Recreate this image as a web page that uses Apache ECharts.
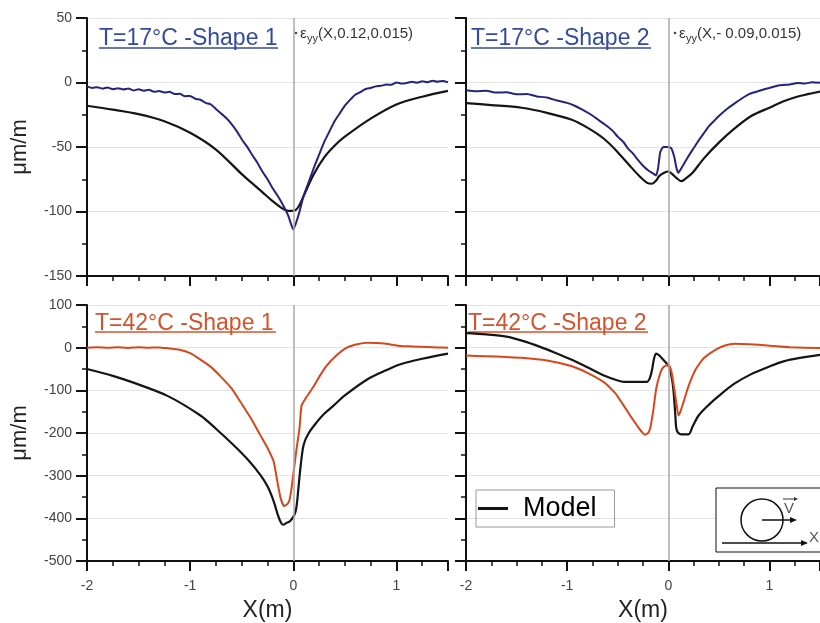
<!DOCTYPE html>
<html>
<head>
<meta charset="utf-8">
<script src="https://cdn.jsdelivr.net/npm/echarts/dist/echarts.min.js"></script>
<style>
  html, body { margin: 0; padding: 0; background: #fff; }
  #main { width: 820px; height: 623px; }
</style>
</head>
<body>
<div id="main"></div>
<script>
// values, [x (m), strain (µm/m)]
const t17s1Meas = [[-2,-3],[-1.95,-4.2],[-1.9,-3.6],[-1.85,-4.8],[-1.8,-3.8],[-1.75,-5.2],[-1.7,-4.4],[-1.65,-5.4],[-1.6,-4.6],[-1.55,-6.2],[-1.5,-5.2],[-1.45,-6.4],[-1.4,-5.6],[-1.35,-7.2],[-1.3,-6.6],[-1.25,-7.8],[-1.2,-7.2],[-1.15,-9],[-1.1,-8.8],[-1.05,-10.6],[-1,-10.5],[-0.95,-12.6],[-0.9,-13.4],[-0.85,-15.8],[-0.8,-17],[-0.75,-20.5],[-0.7,-24],[-0.65,-27.5],[-0.6,-32],[-0.55,-37.5],[-0.5,-44],[-0.45,-49.5],[-0.4,-56],[-0.35,-62],[-0.3,-69],[-0.25,-75],[-0.2,-82],[-0.15,-88],[-0.1,-95],[-0.05,-103],[0,-114],[0.05,-103],[0.1,-88],[0.15,-77],[0.2,-66],[0.25,-56],[0.3,-46],[0.35,-38],[0.4,-30],[0.45,-24],[0.5,-18],[0.55,-13.5],[0.6,-9.5],[0.65,-7.4],[0.7,-5],[0.75,-4.2],[0.8,-3],[0.85,-2.6],[0.9,-1.6],[0.95,-1.8],[1,0],[1.05,-0.8],[1.1,-0.4],[1.15,0.6],[1.2,-0.2],[1.25,1],[1.3,0.2],[1.35,1.4],[1.4,0.6],[1.45,1.2],[1.5,0.2]];
const t17s1Model = [[-2,-18],[-1.75,-21],[-1.5,-24.5],[-1.25,-30],[-1,-39],[-0.75,-52],[-0.5,-71],[-0.4,-78],[-0.3,-85],[-0.2,-92],[-0.1,-98],[-0.05,-99.5],[0.02,-99],[0.06,-95],[0.1,-88],[0.2,-71],[0.3,-58],[0.4,-49],[0.5,-42],[0.75,-28],[1,-17],[1.25,-11],[1.5,-6.5]];
const t17s2Meas = [[-2,-6],[-1.9,-6.8],[-1.8,-6.4],[-1.7,-7.8],[-1.6,-7.6],[-1.5,-9.2],[-1.4,-9],[-1.3,-10.8],[-1.2,-11.6],[-1.1,-14],[-1,-15.8],[-0.92,-18.2],[-0.85,-21],[-0.77,-24.6],[-0.7,-28.5],[-0.62,-33],[-0.55,-37.5],[-0.5,-42],[-0.44,-46.5],[-0.4,-51],[-0.35,-55],[-0.3,-60],[-0.25,-64.5],[-0.2,-68],[-0.16,-70],[-0.12,-72],[-0.1,-66],[-0.08,-54],[-0.05,-50],[0,-50],[0.03,-51],[0.06,-58],[0.08,-66],[0.1,-70],[0.14,-65],[0.2,-57],[0.25,-51],[0.3,-45],[0.35,-39.5],[0.4,-34],[0.45,-30],[0.5,-26],[0.58,-20.5],[0.66,-16],[0.73,-12.2],[0.8,-9],[0.9,-6.4],[1,-4.2],[1.1,-2.2],[1.2,-1.5],[1.28,-0.4],[1.35,-0.8],[1.42,0.2],[1.5,-0.2]];
const t17s2Model = [[-2,-16],[-1.75,-17.5],[-1.45,-19.6],[-1.2,-23.5],[-0.96,-28.7],[-0.8,-35],[-0.63,-44],[-0.5,-54],[-0.38,-64.6],[-0.28,-73],[-0.21,-77.8],[-0.16,-78.5],[-0.12,-76],[-0.09,-72.6],[-0.04,-70],[0,-69],[0.04,-71],[0.08,-74],[0.13,-76.5],[0.18,-74],[0.24,-70],[0.35,-59],[0.5,-46.6],[0.65,-36],[0.82,-26],[1,-19.5],[1.14,-14.5],[1.3,-10.5],[1.5,-7]];
const t42s1Meas = [[-2,0],[-1.9,1],[-1.8,0],[-1.7,1],[-1.6,-0.5],[-1.5,0.8],[-1.4,0],[-1.3,0.6],[-1.23,-1],[-1.1,-5],[-1,-13],[-0.9,-28],[-0.8,-45],[-0.71,-66],[-0.6,-95],[-0.51,-128],[-0.4,-170],[-0.32,-205],[-0.25,-235],[-0.19,-267],[-0.15,-320],[-0.12,-355],[-0.09,-371],[-0.06,-367],[-0.04,-360],[-0.02,-335],[0,-298],[0.03,-240],[0.06,-190],[0.08,-136],[0.13,-115],[0.2,-90],[0.26,-65],[0.32,-43],[0.42,-18],[0.52,0],[0.62,8],[0.72,11.5],[0.8,11],[0.88,10],[0.96,7],[1.04,4],[1.15,3],[1.3,1.5],[1.4,0.5],[1.5,0]];
const t42s1Model = [[-2,-50],[-1.75,-66],[-1.55,-82],[-1.22,-113],[-0.9,-159],[-0.75,-190],[-0.58,-228],[-0.45,-260],[-0.32,-298],[-0.25,-325],[-0.19,-360],[-0.15,-392],[-0.12,-410],[-0.1,-415],[-0.06,-410],[-0.03,-406],[0.01,-392],[0.03,-375],[0.05,-329],[0.07,-280],[0.1,-228],[0.15,-200],[0.23,-174],[0.3,-155],[0.39,-136],[0.5,-112],[0.72,-74],[0.9,-53],[1.04,-39],[1.25,-26],[1.5,-14]];
const t42s2Meas = [[-2,-18.5],[-1.8,-20],[-1.6,-22],[-1.45,-23.5],[-1.2,-30],[-0.96,-43],[-0.8,-59],[-0.63,-82],[-0.53,-105],[-0.44,-136],[-0.38,-158],[-0.31,-182],[-0.26,-198],[-0.23,-204],[-0.2,-200],[-0.18,-190],[-0.15,-150],[-0.12,-97],[-0.08,-60],[-0.05,-46],[0,-39],[0.03,-55],[0.05,-82],[0.08,-130],[0.1,-159],[0.12,-150],[0.15,-128],[0.2,-90],[0.27,-51],[0.35,-25],[0.47,-4.6],[0.56,5],[0.66,9],[0.8,8],[0.98,5],[1.2,1],[1.5,-1]];
const t42s2Model = [[-2,34],[-1.8,31],[-1.6,26],[-1.44,16],[-1.28,3],[-1.12,-12],[-0.96,-28],[-0.8,-46],[-0.63,-66],[-0.5,-77],[-0.44,-80],[-0.3,-80],[-0.21,-80],[-0.18,-70],[-0.16,-51],[-0.14,-25],[-0.12,-14],[-0.09,-18],[-0.07,-23],[-0.02,-36],[0.01,-46],[0.03,-65],[0.05,-97],[0.07,-160],[0.08,-190],[0.1,-200],[0.13,-203],[0.2,-203],[0.24,-185],[0.3,-159],[0.4,-134],[0.5,-113],[0.65,-85],[0.82,-62],[1,-44],[1.14,-32],[1.3,-24],[1.5,-17]];

const panelTitles = ['T=17°C -Shape 1', 'T=17°C -Shape 2', 'T=42°C -Shape 1', 'T=42°C -Shape 2'];
const annotations = ['(X,0.12,0.015)', '(X,- 0.09,0.015)'];

const FONT = '"Liberation Sans", Arial, sans-serif';
const BLUE = '#24247e';
const ORANGE = '#d8461c';
const BLUE_T = '#3449a3';
const ORANGE_T = '#d4532b';

const chart = echarts.init(document.getElementById('main'));

const grids = [
  { left: 87, top: 18, width: 361, height: 258 },
  { left: 466, top: 18, width: 361, height: 258 },
  { left: 87, top: 305, width: 361, height: 258 },
  { left: 466, top: 305, width: 361, height: 258 }
];

function xAxis(i) {
  const bottom = i >= 2;
  return {
    type: 'value', gridIndex: i, min: -2, max: 1.5, interval: 1,
    name: bottom ? 'X(m)' : '', nameLocation: 'middle', nameGap: 38,
    nameTextStyle: { fontSize: 23, color: '#222', fontFamily: FONT },
    axisLine: { show: true, onZero: false, lineStyle: { color: '#111', width: 2 } },
    axisTick: { show: true, inside: false, length: 10, lineStyle: { color: '#111', width: 2 } },
    minorTick: { show: true, splitNumber: 4, length: 5, lineStyle: { color: '#111', width: 1.5 } },
    axisLabel: { show: bottom, margin: 18, fontSize: 14, color: '#444', fontFamily: FONT, showMaxLabel: false },
    splitLine: { show: false }
  };
}

function yAxis(i) {
  const top = i < 2;
  const left = i % 2 === 0;
  return {
    type: 'value', gridIndex: i,
    min: top ? -150 : -500, max: top ? 50 : 100, interval: top ? 50 : 100,
    name: left ? 'μm/m' : '', nameLocation: 'middle', nameGap: 56,
    nameTextStyle: { fontSize: 22, color: '#222', fontFamily: FONT },
    axisLine: { show: true, onZero: false, lineStyle: { color: '#111', width: 2 } },
    axisTick: { show: true, inside: false, length: 11, lineStyle: { color: '#111', width: 2 } },
    minorTick: { show: true, splitNumber: 2, length: 5, lineStyle: { color: '#111', width: 1.5 } },
    axisLabel: { show: left, margin: 15, fontSize: 14, color: '#444', fontFamily: FONT },
    splitLine: { show: true, lineStyle: { color: '#e4e4e4', width: 1 } }
  };
}

function modelSeries(i, data) {
  return {
    name: 'Model', type: 'line', xAxisIndex: i, yAxisIndex: i, data: data,
    symbol: 'none', smooth: 0.3, z: 3,
    lineStyle: { color: '#151515', width: 2.2 }, itemStyle: { color: '#151515' }
  };
}

function measSeries(i, data, color) {
  return {
    name: 'Measured ' + (i + 1), type: 'line', xAxisIndex: i, yAxisIndex: i, data: data,
    symbol: 'none', smooth: 0.15, z: 4,
    lineStyle: { color: color, width: 2 },
    markLine: {
      silent: true, symbol: ['none', 'none'], label: { show: false },
      lineStyle: { color: '#a8a8a8', width: 1.5, type: 'solid' },
      data: [{ xAxis: 0 }]
    }
  };
}

function titleText(x, y, text, color, x2, uy) {
  return [
    { type: 'text', left: x, top: y, style: { text: text, font: '23px ' + FONT, fill: color } },
    { type: 'line', shape: { x1: x, y1: uy, x2: x2, y2: uy }, style: { stroke: color, lineWidth: 1.5 } }
  ];
}

function epsText(x, y, rest) {
  return [
    { type: 'circle', shape: { cx: x - 4, cy: y + 5, r: 1.3 }, style: { fill: '#444' } },
    { type: 'text', left: x, top: y - 2, style: { text: 'ε', font: '15px ' + FONT, fill: '#333' } },
    { type: 'text', left: x + 7, top: y + 5, style: { text: 'yy', font: '11px ' + FONT, fill: '#333' } },
    { type: 'text', left: x + 18, top: y - 2, style: { text: rest, font: '15px ' + FONT, fill: '#333' } }
  ];
}

const inset = [
  { type: 'rect', shape: { x: 716, y: 488, width: 120, height: 64 }, style: { fill: '#fff', stroke: '#111', lineWidth: 1 }, z: 10 },
  { type: 'circle', shape: { cx: 762, cy: 520, r: 21 }, style: { fill: 'none', stroke: '#111', lineWidth: 1.5 }, z: 11 },
  { type: 'line', shape: { x1: 762, y1: 520, x2: 795, y2: 520 }, style: { stroke: '#111', lineWidth: 1.5 }, z: 11 },
  { type: 'polygon', shape: { points: [[797, 520], [790, 517], [790, 523]] }, style: { fill: '#111' }, z: 11 },
  { type: 'line', shape: { x1: 722, y1: 543, x2: 806, y2: 543 }, style: { stroke: '#111', lineWidth: 1.5 }, z: 11 },
  { type: 'polygon', shape: { points: [[808, 543], [801, 540], [801, 546]] }, style: { fill: '#111' }, z: 11 },
  { type: 'text', left: 784, top: 501, style: { text: 'V', font: '15px ' + FONT, fill: '#555' }, z: 11 },
  { type: 'line', shape: { x1: 783, y1: 499, x2: 796, y2: 499 }, style: { stroke: '#333', lineWidth: 1 }, z: 11 },
  { type: 'polygon', shape: { points: [[798, 499], [794, 497], [794, 501]] }, style: { fill: '#333' }, z: 11 },
  { type: 'text', left: 809, top: 530, style: { text: 'X', font: '15px ' + FONT, fill: '#555' }, z: 11 }
];

const option = {
  animation: false,
  backgroundColor: '#fff',
  grid: grids,
  xAxis: [0, 1, 2, 3].map(xAxis),
  yAxis: [0, 1, 2, 3].map(yAxis),
  legend: {
    data: [{ name: 'Model', icon: 'rect' }], left: 476, top: 490,
    itemWidth: 30, itemHeight: 3, itemGap: 10,
    padding: [5, 18, 5, 2],
    borderColor: '#999', borderWidth: 1,
    textStyle: { fontSize: 27, color: '#000', fontFamily: FONT, padding: [0, 0, 0, 10] }
  },
  series: [
    modelSeries(0, t17s1Model), measSeries(0, t17s1Meas, BLUE),
    modelSeries(1, t17s2Model), measSeries(1, t17s2Meas, BLUE),
    modelSeries(2, t42s1Model), measSeries(2, t42s1Meas, ORANGE),
    modelSeries(3, t42s2Model), measSeries(3, t42s2Meas, ORANGE)
  ],
  graphic: [].concat(
    titleText(99, 27, panelTitles[0], BLUE_T, 278, 48),
    titleText(471, 27, panelTitles[1], BLUE_T, 651, 48),
    titleText(95, 312, panelTitles[2], ORANGE_T, 276, 332),
    titleText(468, 312, panelTitles[3], ORANGE_T, 648, 332),
    epsText(300, 28, annotations[0]),
    epsText(679, 28, annotations[1]),
    inset
  )
};

chart.setOption(option);
</script>
</body>
</html>
